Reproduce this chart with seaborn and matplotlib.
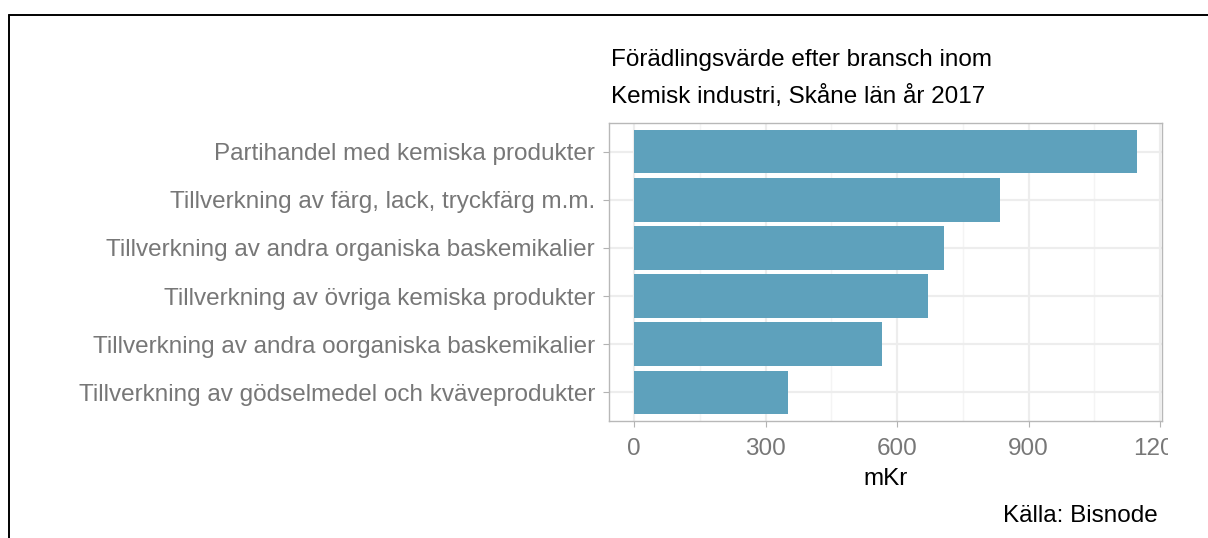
import matplotlib
matplotlib.use("Agg")
import matplotlib.pyplot as plt
from matplotlib.lines import Line2D
from matplotlib.transforms import Bbox
from matplotlib.ticker import MultipleLocator
import seaborn as sns
import pandas as pd

branscher = [
    "Partihandel med kemiska produkter",
    "Tillverkning av färg, lack, tryckfärg m.m.",
    "Tillverkning av andra organiska baskemikalier",
    "Tillverkning av övriga kemiska produkter",
    "Tillverkning av andra oorganiska baskemikalier",
    "Tillverkning av gödselmedel och kväveprodukter",
]
varde_mkr = [1147, 834, 708, 671, 566, 350]
x_ticks = [0, 300, 600, 900, 1200]

df = pd.DataFrame({"bransch": branscher, "mKr": varde_mkr})

sns.set_theme(style="white")
plt.rcParams["font.family"] = ["Liberation Sans", "DejaVu Sans"]

FS = 17.5
W, H = 1208, 538
fig = plt.figure(figsize=(W / 100, H / 100), dpi=100)
ax = fig.add_axes([609 / W, 117 / H, 553 / W, 298 / H])

sns.barplot(data=df, x="mKr", y="bransch", order=branscher, orient="h",
            color="#5EA1BC", saturation=1, width=0.9, ax=ax, zorder=3,
            linewidth=0)

xmax = max(varde_mkr)
pad = 0.05 * xmax
ax.set_xlim(-pad, xmax + pad)
ax.set_ylim(len(branscher) - 0.4, -0.6)

ax.xaxis.set_minor_locator(MultipleLocator(150))
ax.set_xticks(x_ticks)
ax.set_xticklabels([str(v) for v in x_ticks])
ax.grid(True, which="major", axis="both", color="#EDEDED", linewidth=1.6, zorder=0)
ax.grid(True, which="minor", axis="x", color="#F4F4F4", linewidth=1.0, zorder=0)
ax.set_axisbelow(True)

for s in ax.spines.values():
    s.set_visible(True)
    s.set_color("#B8B8B8")
    s.set_linewidth(1.0)

ax.tick_params(axis="both", which="major", length=4, width=0.8, color="#B3B3B3",
               labelcolor="#777777", labelsize=FS, pad=6,
               bottom=True, left=True)
ax.tick_params(axis="x", which="major", pad=8)
ax.tick_params(axis="x", which="minor", length=0)

ax.set_ylabel("")
ax.set_xlabel("mKr", fontsize=FS, color="black", labelpad=6)

# the right edge of the plot area is cut off just after the panel
clip = Bbox.from_extents(0, 0, 1168, H)
for lbl in ax.get_xticklabels():
    lbl.set_clip_box(clip)
    lbl.set_clip_on(True)

fig.text(611 / W, 1 - 60 / H, "Förädlingsvärde efter bransch inom",
         fontsize=FS, color="black", ha="left", va="center")
fig.text(611 / W, 1 - 97 / H, "Kemisk industri, Skåne län år 2017",
         fontsize=FS, color="black", ha="left", va="center")
fig.text(1158 / W, 1 - 516 / H, "Källa: Bisnode",
         fontsize=FS, color="black", ha="right", va="center")

# outer frame (top and left edges)
fig.add_artist(Line2D([9 / W, 1.0], [1 - 15 / H, 1 - 15 / H],
                      transform=fig.transFigure, color="black", linewidth=1.4))
fig.add_artist(Line2D([9 / W, 9 / W], [0.0, 1 - 15 / H],
                      transform=fig.transFigure, color="black", linewidth=1.4))

fig.savefig("out.png", dpi=100, facecolor="white")
